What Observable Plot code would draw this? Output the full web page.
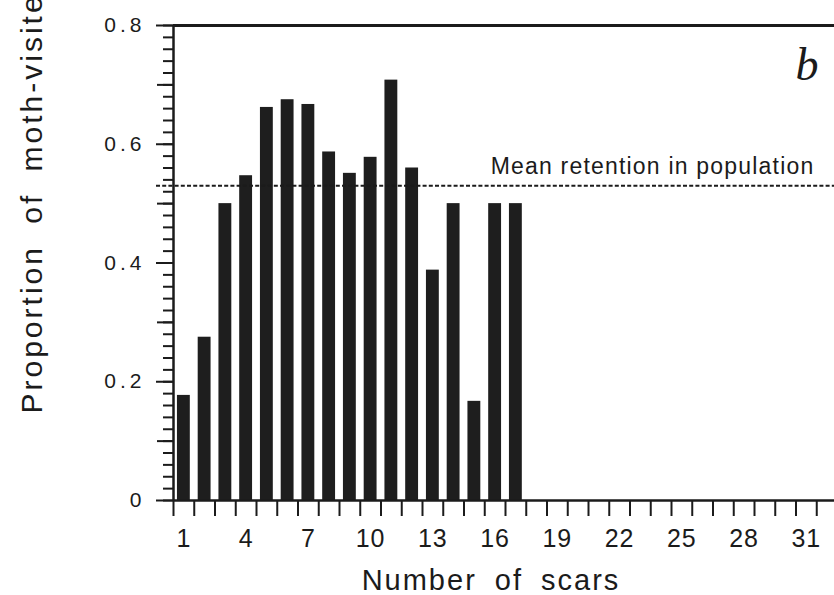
<!DOCTYPE html>
<html><head><meta charset="utf-8">
<script src="https://cdn.jsdelivr.net/npm/d3@7"></script>
<script src="https://cdn.jsdelivr.net/npm/@observablehq/plot@0.6"></script>
<style>
html,body{margin:0;padding:0;background:#fff;}
#chart svg{display:block;}
</style></head><body><div id="chart"></div>
<script>
// ---- data ----
const scars = [1,2,3,4,5,6,7,8,9,10,11,12,13,14,15,16,17];
const proportions = [0.177,0.275,0.50,0.547,0.662,0.675,0.667,0.587,0.551,0.578,0.708,0.56,0.388,0.50,0.167,0.50,0.50];
const meanRetention = 0.53;
const meanLabel = "Mean retention in population";
const panelLetter = "b";
const xTitle = "Number of scars";
const yTitle = "Proportion of moth-visited";
const xDomain = [0.5, 32.5];
const yDomain = [0, 0.8];
const xTickLabels = [1,4,7,10,13,16,19,22,25,28,31];
const yTickLabels = [0,0.2,0.4,0.6,0.8];
const yMidTicks = [0.1,0.3,0.5,0.7];
const yMinorTicks = d3.range(0, 0.81, 0.02);
const xBoundaryTicks = d3.range(0.5, 33, 1);

const data = scars.map((n, i) => ({n, v: proportions[i]}));
const half = 0.31;
const ink = "#1b1b1b";

const chart = Plot.plot({
  width: 834, height: 595,
  marginLeft: 173, marginRight: 0, marginTop: 25, marginBottom: 95,
  x: {domain: xDomain, range: [173, 837]},
  y: {domain: yDomain, range: [500, 25]},
  style: {fontFamily: "'Liberation Sans', Arial, sans-serif", color: ink, background: "transparent"},
  marks: [
    Plot.rectY(data, {x1: d => d.n - half, x2: d => d.n + half, y1: 0, y2: "v", fill: "#1e1e1e"}),
    Plot.ruleY([meanRetention], {stroke: ink, strokeWidth: 2, strokeDasharray: "4,2.2", insetLeft: -17}),
    Plot.axisY({ticks: yMinorTicks, tickSize: 10, tickFormat: () => "", label: null}),
    Plot.axisY({ticks: yMidTicks, tickSize: 16, tickFormat: () => "", label: null}),
    Plot.axisY({ticks: yTickLabels, tickSize: 17, tickPadding: 11, label: null,
      tickFormat: d => d === 0 ? "0" : d.toFixed(1)}),
    Plot.axisX({ticks: xBoundaryTicks, tickSize: 16, tickFormat: () => "", label: null}),
    Plot.axisX({ticks: xTickLabels, tickSize: 0, tickPadding: 29, label: null}),
    Plot.ruleX([xDomain[0]], {stroke: ink, strokeWidth: 2.5}),
    Plot.ruleY([yDomain[0]], {stroke: ink, strokeWidth: 2.5}),
    Plot.ruleY([yDomain[1]], {stroke: ink, strokeWidth: 3}),
    Plot.text([meanLabel], {y: [meanRetention], frameAnchor: "right", text: d => d, textAnchor: "end",
      lineAnchor: "bottom", dx: -20, dy: -12, fontSize: 23, fill: ink}),
    Plot.text([panelLetter], {frameAnchor: "top-right", text: d => d, textAnchor: "end", lineAnchor: "top",
      dx: -16, dy: 22, fontSize: 46, fontStyle: "italic", fontFamily: "'Liberation Serif', 'Times New Roman', serif", fill: ink}),
    Plot.text([xTitle], {frameAnchor: "bottom", text: d => d, textAnchor: "middle", lineAnchor: "top",
      dx: -13, dy: 69, fontSize: 29, fill: ink}),
    Plot.text([yTitle], {frameAnchor: "bottom-left", text: d => d, textAnchor: "start", lineAnchor: "middle",
      rotate: -90, dx: -141, dy: -87, fontSize: 30, fill: ink})
  ]
});

const sel = d3.select(chart);
const xLabelSet = new Set(xTickLabels.map(String));
sel.selectAll("text").each(function() {
  const t = this.textContent;
  if (t === xTitle) {
    this.style.letterSpacing = "2px"; this.style.wordSpacing = "8px";
  } else if (t === yTitle) {
    this.style.letterSpacing = "3px"; this.style.wordSpacing = "10px";
  } else if (t === meanLabel) {
    this.style.letterSpacing = "1.2px";
  } else if (t === panelLetter) {
    // default
  } else if (xLabelSet.has(t) && this.closest("g[aria-label='x-axis tick label']")) {
    this.style.letterSpacing = "1px";
    this.style.fontSize = "25px";
  } else {
    this.style.letterSpacing = "4px";
    this.style.fontSize = "21px";
  }
});
sel.selectAll("g[aria-label$='tick']").attr("stroke-width", 2).attr("stroke", ink);
document.getElementById("chart").appendChild(chart);
</script></body></html>
